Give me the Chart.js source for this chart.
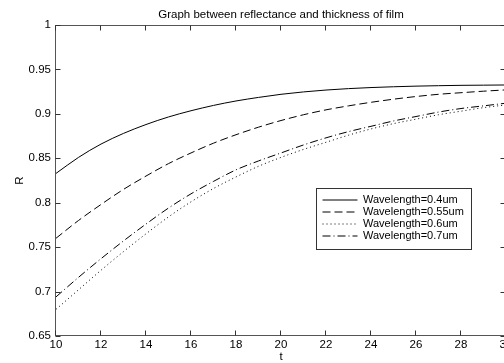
<!DOCTYPE html>
<html><head><meta charset="utf-8">
<script src="https://cdn.jsdelivr.net/npm/chart.js@4.4.1/dist/chart.umd.min.js"></script>
<style>
html,body{margin:0;padding:0;background:#fff;overflow:hidden}
#wrap{width:504px;height:363px;overflow:hidden;position:relative;background:#fff}
canvas{display:block}
</style></head><body>
<div id="wrap"><canvas id="c" width="507" height="363" style="width:507px;height:363px"></canvas></div>
<script>
// ---- data ----
const thickness = [10,11,12,13,14,15,16,17,18,19,20,21,22,23,24,25,26,27,28,29,30];
const R_04  = [0.833,0.851,0.866,0.878,0.888,0.8965,0.9035,0.9095,0.9145,0.9185,0.922,0.9247,0.9268,0.9284,0.9296,0.9305,0.9312,0.9317,0.9321,0.9323,0.9325];
const R_055 = [0.760,0.780,0.798,0.815,0.830,0.844,0.856,0.867,0.8765,0.885,0.8925,0.899,0.9045,0.909,0.913,0.9165,0.9195,0.922,0.9238,0.9255,0.927];
const R_06  = [0.680,0.702,0.724,0.745,0.765,0.784,0.801,0.816,0.829,0.841,0.851,0.860,0.868,0.876,0.883,0.889,0.894,0.899,0.903,0.907,0.910];
const R_07  = [0.694,0.716,0.737,0.757,0.776,0.794,0.810,0.824,0.837,0.847,0.856,0.865,0.873,0.880,0.886,0.892,0.897,0.902,0.906,0.909,0.912];
const seriesLabels = ['Wavelength=0.4um','Wavelength=0.55um','Wavelength=0.6um','Wavelength=0.7um'];
const xTicks = [10,12,14,16,18,20,22,24,26,28,30];
const yTicks = [0.65,0.7,0.75,0.8,0.85,0.9,0.95,1];
const chartTitle = 'Graph between reflectance and thickness of film';
const xLabel = 't';
const yLabel = 'R';

// ---- styles ----
const FONT = 'Arial, "Liberation Sans", Helvetica, sans-serif';
const dashes = [[], [8,4], [1,3], [8,3,1,3]];
const seriesValues = [R_04, R_055, R_06, R_07];

const datasets = seriesValues.map((vals, i) => ({
  label: seriesLabels[i],
  data: thickness.map((t, j) => ({x: t, y: vals[j]})),
  borderColor: '#000',
  backgroundColor: '#000',
  borderWidth: 1,
  borderDash: dashes[i],
  pointRadius: 0,
  fill: false,
  cubicInterpolationMode: 'monotone'
}));

const boxPlugin = {
  id: 'matlabBox',
  afterLayout(chart) {
    const ca = chart.chartArea;
    const tb = chart.titleBlock;
    if (tb) { tb.left = ca.left; tb.right = ca.right; tb.width = ca.right - ca.left; }
    const lg = chart.legend;
    if (lg) {
      const w = lg.width, h = lg.height;
      lg.left = 321.5; lg.top = 193.5; lg.right = lg.left + w; lg.bottom = lg.top + h;
    }
  },
  afterDraw(chart) {
    const {ctx, chartArea: ca, scales: {x, y}} = chart;
    ctx.save();
    ctx.setLineDash([]);
    ctx.lineWidth = 1;
    ctx.strokeStyle = '#555';
    const L = Math.round(ca.left) - 0.5, R = Math.round(ca.right) - 0.5;
    const T = Math.round(ca.top) + 0.5, B = Math.round(ca.bottom) - 0.5;
    ctx.strokeRect(L, T, R - L, B - T);
    ctx.strokeStyle = '#333';
    ctx.beginPath();
    xTicks.forEach(v => {
      const px = Math.round(x.getPixelForValue(v)) - 0.5;
      ctx.moveTo(px, B); ctx.lineTo(px, B - 5);
      ctx.moveTo(px, T); ctx.lineTo(px, T + 5);
    });
    yTicks.forEach(v => {
      const py = Math.round(y.getPixelForValue(v)) + 0.5;
      ctx.moveTo(L, py); ctx.lineTo(L + 5, py);
      ctx.moveTo(R, py); ctx.lineTo(R - 5, py);
    });
    ctx.stroke();
    // legend frame
    ctx.strokeStyle = '#333';
    ctx.strokeRect(316.5, 188.5, 155, 61);
    ctx.restore();
  }
};

const baseGen = Chart.defaults.plugins.legend.labels.generateLabels;

new Chart(document.getElementById('c'), {
  type: 'line',
  data: {datasets},
  plugins: [boxPlugin],
  options: {
    responsive: false,
    devicePixelRatio: 1,
    animation: false,
    layout: {padding: {left: 0, right: 1, top: 0, bottom: 0}},
    plugins: {
      title: {
        display: true, text: chartTitle, color: '#000',
        font: {family: FONT, size: 11.5, weight: 'normal', lineHeight: 1.2},
        padding: {top: 8, bottom: 3.2}
      },
      legend: {
        display: true, position: 'chartArea', align: 'start',
        labels: {
          usePointStyle: true, pointStyle: 'line', pointStyleWidth: 35,
          color: '#000', padding: 1,
          font: {family: FONT, size: 11},
          generateLabels: chart => baseGen(chart).map(item => {
            const ds = chart.data.datasets[item.datasetIndex];
            item.lineDash = ds.borderDash;
            item.lineWidth = 1;
            item.strokeStyle = '#000';
            item.pointStyle = 'line';
            return item;
          })
        }
      },
      tooltip: {enabled: false}
    },
    scales: {
      x: {
        type: 'linear', min: 10, max: 30,
        afterBuildTicks: s => { s.ticks = xTicks.map(v => ({value: v})); },
        afterFit: s => { s.height = 27; s.paddingLeft = 0; s.paddingRight = 0; },
        grid: {display: false, drawTicks: false},
        border: {display: false},
        ticks: {color: '#000', padding: 2, maxRotation: 0, autoSkip: false,
          font: {family: FONT, size: 11.5, lineHeight: 1.2},
          callback: v => String(v)},
        title: {display: true, text: xLabel, color: '#000',
          font: {family: FONT, size: 11.5, lineHeight: 1}, padding: {top: 0, bottom: 0}}
      },
      y: {
        type: 'linear', min: 0.65, max: 1,
        afterBuildTicks: s => { s.ticks = yTicks.map(v => ({value: v})); },
        afterFit: s => { s.width = 56; s.paddingTop = 0; s.paddingBottom = 0; },
        grid: {display: false, drawTicks: false},
        border: {display: false},
        ticks: {color: '#000', padding: 5, autoSkip: false,
          font: {family: FONT, size: 11.5, lineHeight: 1.2},
          callback: v => String(Number(v.toFixed(2)))},
        title: {display: true, text: yLabel, color: '#000',
          font: {family: FONT, size: 11.5, lineHeight: 1.2}, padding: {top: 13, bottom: 0}}
      }
    }
  }
});
</script>
</body></html>
